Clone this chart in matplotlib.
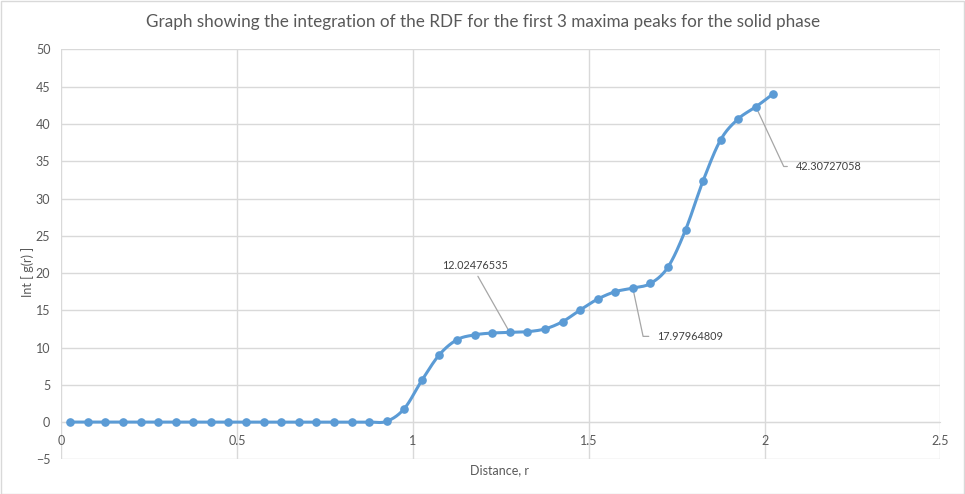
import numpy as np
import matplotlib
matplotlib.use("Agg")
import matplotlib.pyplot as plt
from matplotlib.patches import Rectangle

# distance r and integrated g(r)
r = [0.025, 0.075, 0.125, 0.175, 0.225, 0.275, 0.325, 0.375, 0.425, 0.475,
     0.525, 0.575, 0.625, 0.675, 0.725, 0.775, 0.825, 0.875, 0.925, 0.975,
     1.025, 1.075, 1.125, 1.175, 1.225, 1.275, 1.325, 1.375, 1.425, 1.475,
     1.525, 1.575, 1.625, 1.675, 1.725, 1.775, 1.825, 1.875, 1.925, 1.975,
     2.025]
int_g = [0, 0, 0, 0, 0, 0, 0, 0, 0, 0,
         0, 0, 0, 0, 0, 0, 0, 0, 0.1, 1.8,
         5.6, 9.05, 11.05, 11.7, 11.95, 12.02476535, 12.13, 12.5, 13.47, 15.04,
         16.5, 17.5, 17.97964809, 18.6, 20.8, 25.8, 32.4, 37.9, 40.7, 42.30727058,
         44.08]
peaks = [25, 32, 39]   # indices of labelled maxima
xticks = [0, 0.5, 1, 1.5, 2, 2.5]
yticks = [-5, 0, 5, 10, 15, 20, 25, 30, 35, 40, 45, 50]

BLUE = '#5B9BD5'
GRID = '#D9D9D9'
TXT = '#595959'

plt.rcParams['font.family'] = ['Lato', 'DejaVu Sans']


def smooth(x, y, n=20):
    # catmull-rom like excel smoothed line
    x = np.asarray(x, float)
    y = np.asarray(y, float)
    px = np.concatenate([[2 * x[0] - x[1]], x, [2 * x[-1] - x[-2]]])
    py = np.concatenate([[2 * y[0] - y[1]], y, [2 * y[-1] - y[-2]]])
    sx, sy = [], []
    t = np.linspace(0, 1, n, endpoint=False)
    for i in range(1, len(px) - 2):
        for arr, out in ((px, sx), (py, sy)):
            p0, p1, p2, p3 = arr[i - 1], arr[i], arr[i + 1], arr[i + 2]
            out.extend(0.5 * (2 * p1 + (-p0 + p2) * t
                              + (2 * p0 - 5 * p1 + 4 * p2 - p3) * t ** 2
                              + (-p0 + 3 * p1 - 3 * p2 + p3) * t ** 3))
    sx.append(x[-1])
    sy.append(y[-1])
    return sx, sy


fig = plt.figure(figsize=(9.65, 4.94), dpi=100)
ax = fig.add_axes([0.0637, 0.0702, 0.9109, 0.8296])
fig.patches.append(Rectangle((0.001, 0.001), 0.998, 0.997, transform=fig.transFigure,
                             fill=False, edgecolor=GRID, lw=1))

sx, sy = smooth(r, int_g)
ax.plot(sx, sy, color=BLUE, lw=2.2, zorder=3)
ax.plot(r, int_g, 'o', color=BLUE, ms=5.2, zorder=4)

ax.set_xlim(0, 2.5)
ax.set_ylim(-5, 50)
ax.set_xticks(xticks)
ax.set_xticklabels([f'{v:g}' for v in xticks])
ax.set_yticks(yticks)
ax.grid(True, color=GRID, lw=1)
ax.set_axisbelow(True)
for s in ['top', 'right', 'left']:
    ax.spines[s].set_visible(False)
ax.spines['bottom'].set_position(('data', 0))
ax.spines['bottom'].set_color(GRID)
ax.tick_params(length=0, labelsize=9, colors=TXT, pad=8)
ax.tick_params(axis='x', pad=9)

# leader labels
lab_pos = [(1.176, 21.0), (1.694, 11.5), (2.088, 34.3)]
lab_fs = 7.8
ax.annotate(f'{int_g[peaks[0]]:.8f}', xy=(r[peaks[0]], int_g[peaks[0]]),
            xytext=lab_pos[0], ha='center', va='center', fontsize=lab_fs, color='#404040',
            arrowprops=dict(arrowstyle='-', color='#A6A6A6', lw=0.9,
                            relpos=(0.5, 0), shrinkA=2, shrinkB=0))
ax.annotate(f'{int_g[peaks[1]]:.8f}', xy=(r[peaks[1]], int_g[peaks[1]]),
            xytext=lab_pos[1], ha='left', va='center', fontsize=lab_fs, color='#404040',
            arrowprops=dict(arrowstyle='-', color='#A6A6A6', lw=0.9,
                            relpos=(0, 0.5), shrinkA=4, shrinkB=0,
                            connectionstyle='angle,angleA=0,angleB=102,rad=0'))
ax.annotate(f'{int_g[peaks[2]]:.8f}', xy=(r[peaks[2]], int_g[peaks[2]]),
            xytext=lab_pos[2], ha='left', va='center', fontsize=lab_fs, color='#404040',
            arrowprops=dict(arrowstyle='-', color='#A6A6A6', lw=0.9,
                            relpos=(0, 0.5), shrinkA=4, shrinkB=0,
                            connectionstyle='angle,angleA=0,angleB=115,rad=0'))

fig.text(0.501, 0.955, 'Graph showing the integration of the RDF for the first 3 maxima peaks for the solid phase',
         ha='center', va='center', fontsize=12.3, color=TXT)
fig.text(0.518, 0.048, 'Distance, r', ha='center', va='center', fontsize=9, color=TXT)
fig.text(0.029, 1 - 272 / 494, 'Int [ g(r) ]', ha='center', va='center', rotation=90,
         fontsize=9, color=TXT)

fig.savefig('out.png', dpi=100)
